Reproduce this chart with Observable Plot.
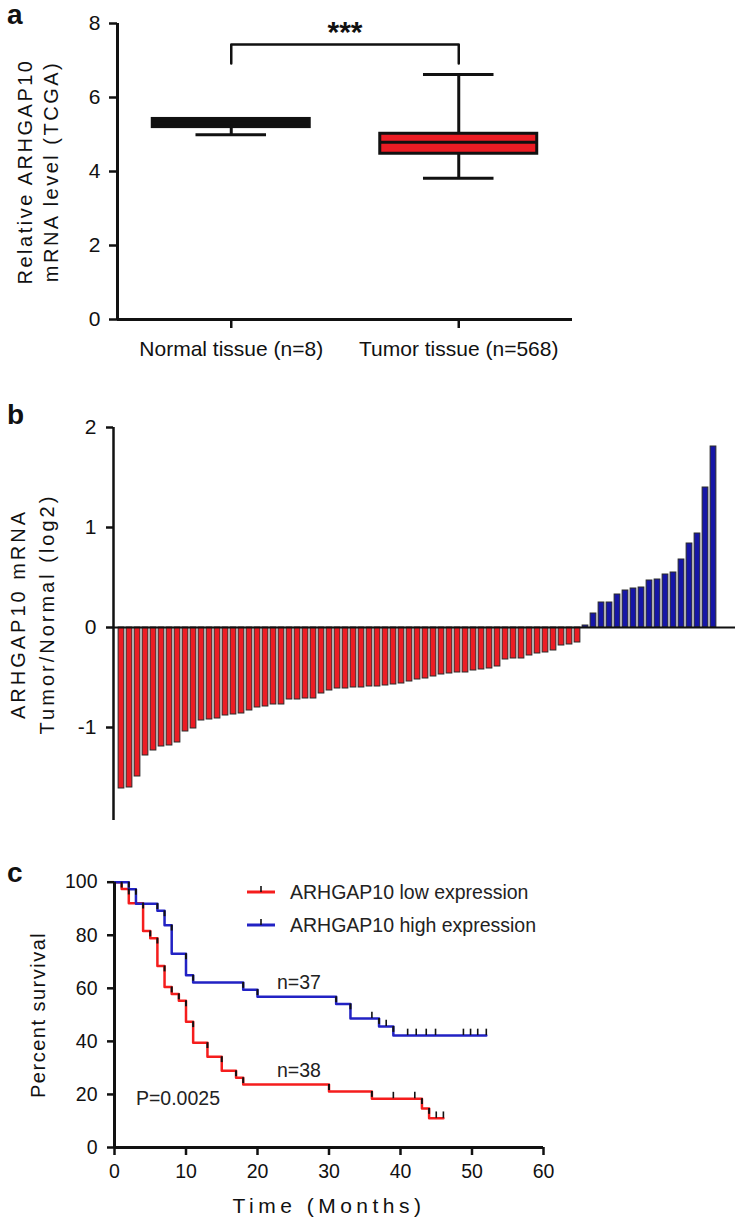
<!DOCTYPE html>
<html>
<head>
<meta charset="utf-8">
<script src="https://cdn.jsdelivr.net/npm/d3@7"></script>
<script src="https://cdn.jsdelivr.net/npm/@observablehq/plot@0.6"></script>
<style>
  html, body { margin: 0; padding: 0; background: #fff; }
  #root { position: relative; width: 737px; height: 1226px; overflow: hidden; font-family: "Liberation Sans", Arial, Helvetica, sans-serif; color: #111; }
  .letter { position: absolute; font-weight: bold; font-size: 28px; line-height: 28px; }
  .legend { position: absolute; left: 0; top: 0; }
</style>
</head>
<body>
<div id="root"></div>
<script>
// ---------------- DATA ----------------
// Panel a: box plot summaries
const groups = ["Normal tissue (n=8)", "Tumor tissue (n=568)"];
const boxLow = [4.99, 3.82];
const boxQ1 = [5.20, 4.48];
const boxMedian = [5.31, 4.79];
const boxQ3 = [5.42, 5.02];
const boxHigh = [5.42, 6.62];
const significance = "***";
const yTicksA = [0, 2, 4, 6, 8];
const yTitleA = "Relative ARHGAP10\nmRNA level (TCGA)";

// Panel b: waterfall of log2(Tumor/Normal), 75 samples, sorted
const foldChange = [
  -1.61, -1.60, -1.49, -1.28, -1.23, -1.19, -1.18, -1.15, -1.04, -1.01,
  -0.93, -0.92, -0.91, -0.88, -0.87, -0.86, -0.83, -0.80, -0.79, -0.77,
  -0.77, -0.72, -0.72, -0.71, -0.71, -0.66, -0.63, -0.61, -0.61, -0.60,
  -0.60, -0.59, -0.59, -0.58, -0.57, -0.56, -0.54, -0.52, -0.51, -0.49,
  -0.47, -0.46, -0.45, -0.45, -0.43, -0.42, -0.41, -0.39, -0.32, -0.31,
  -0.31, -0.28, -0.26, -0.25, -0.23, -0.18, -0.17, -0.15,
  0.02, 0.14, 0.25, 0.25, 0.33, 0.37, 0.39, 0.40, 0.47, 0.48,
  0.53, 0.55, 0.68, 0.84, 0.94, 1.40, 1.81
];
const yTicksB = [-1, 0, 1, 2];
const yTitleB = "ARHGAP10 mRNA\nTumor/Normal (log2)";

// Panel c: Kaplan-Meier curves
const lowTime = [0, 1, 2, 4, 5, 6, 7, 8, 9, 10, 11, 13, 15, 17, 18, 30, 36, 43, 44, 46];
const lowSurv = [100, 97.4, 92.1, 81.6, 78.9, 68.4, 60.5, 57.9, 55.3, 47.4, 39.5, 34.2, 28.9, 26.3, 23.7, 21.1, 18.4, 14.7, 11.0, 11.0];
const lowCensor = [39, 42, 45, 46];
const highTime = [0, 2, 3, 6, 7, 8, 10, 11, 18, 20, 31, 33, 37, 39, 52];
const highSurv = [100, 97.3, 91.9, 89.2, 83.8, 73.0, 64.9, 62.2, 59.5, 56.8, 54.1, 48.6, 45.6, 42.2, 42.2];
const highCensor = [36, 38, 41, 42.2, 43.6, 44.9, 48.8, 49.8, 50.8, 52];
const xTicksC = [0, 10, 20, 30, 40, 50, 60];
const yTicksC = [0, 20, 40, 60, 80, 100];
const legendLabels = ["ARHGAP10 low expression", "ARHGAP10 high expression"];
const nLabels = ["n=38", "n=37"];
const pValue = "P=0.0025";
const xTitleC = "Time (Months)";
const yTitleC = "Percent survival";
const panelLetters = ["a", "b", "c"];

// ---------------- STYLE ----------------
const FONT = '"Liberation Sans", Arial, Helvetica, sans-serif';
const RED = "#ec1c24";
const BLUE = "#1616a6";
const CURVE_RED = "#f51d1d";
const CURVE_BLUE = "#2222c4";
const INK = "#111";

function hasFont(name) {
  const c = document.createElement("canvas").getContext("2d");
  const s = "ARHGAP10 low expression 0123";
  c.font = "40px monospace"; const m = c.measureText(s).width;
  c.font = `40px "${name}", monospace`; const w = c.measureText(s).width;
  return Math.abs(w - m) > 1;
}
const NARROW = hasFont("Liberation Sans Narrow") ? '"Liberation Sans Narrow", "Arial Narrow", sans-serif' : FONT;
const NARROW_SIZE = NARROW === FONT ? 19.5 : 22;

const root = document.getElementById("root");
function place(svg, top) {
  svg.style.position = "absolute";
  svg.style.left = "0px";
  svg.style.top = top + "px";
  root.appendChild(svg);
}
function spaceText(svg, content, ls) {
  d3.select(svg).selectAll("text").filter(function () {
    return this.textContent.replace(/\s/g, "") === content.replace(/\s/g, "");
  }).attr("letter-spacing", ls);
}
const intFormat = d => String(d);

// ---------------- PANEL A ----------------
const boxes = groups.map((g, i) => ({ i, g, low: boxLow[i], q1: boxQ1[i], med: boxMedian[i], q3: boxQ3[i], high: boxHigh[i] }));
const boxFill = ["#111", RED];
const BOX_HALF = 0.345, CAP_HALF = 0.155;
const bracketY = Math.max(...boxHigh) + 0.81;
const bracket = [{ x: 0, y: bracketY - 0.51 }, { x: 0, y: bracketY }, { x: 1, y: bracketY }, { x: 1, y: bracketY - 0.51 }];

const plotA = Plot.plot({
  width: 737, height: 370,
  marginTop: 23, marginBottom: 51, marginLeft: 117, marginRight: 165,
  style: { fontSize: "21px", fontFamily: FONT, color: INK, background: "transparent", overflow: "visible" },
  x: { domain: [-0.5, groups.length - 0.5], axis: null },
  y: { domain: [0, 8], axis: null },
  marks: [
    Plot.ruleX(boxes, { x: "i", y1: "low", y2: "high", stroke: INK, strokeWidth: 3 }),
    Plot.ruleY(boxes, { y: "low", x1: d => d.i - CAP_HALF, x2: d => d.i + CAP_HALF, stroke: INK, strokeWidth: 3 }),
    Plot.ruleY(boxes, { y: "high", x1: d => d.i - CAP_HALF, x2: d => d.i + CAP_HALF, stroke: INK, strokeWidth: 3 }),
    Plot.rect(boxes, { x1: d => d.i - BOX_HALF, x2: d => d.i + BOX_HALF, y1: "q1", y2: "q3", fill: d => boxFill[d.i], stroke: INK, strokeWidth: 3 }),
    Plot.ruleY(boxes, { y: "med", x1: d => d.i - BOX_HALF, x2: d => d.i + BOX_HALF, stroke: INK, strokeWidth: 3 }),
    Plot.line(bracket, { x: "x", y: "y", stroke: INK, strokeWidth: 2.5 }),
    Plot.text([significance], { x: 0.5, y: bracketY + 0.32, text: d => d, fontSize: 30, fontWeight: "bold", fill: INK }),
    Plot.ruleX([-0.5], { y1: 0, y2: 8, stroke: INK, strokeWidth: 3 }),
    Plot.ruleY([0], { stroke: INK, strokeWidth: 3 }),
    Plot.axisY({ ticks: yTicksA, tickFormat: intFormat, tickSize: 8, tickPadding: 9, strokeWidth: 2.5, label: null }),
    Plot.axisX({ ticks: boxes.map(d => d.i), tickFormat: i => groups[i], tickSize: 9, tickPadding: 13, strokeWidth: 2.5, label: null }),
    Plot.text([yTitleA], { frameAnchor: "left", textAnchor: "middle", lineAnchor: "middle", dx: -81, rotate: -90, text: d => d, lineHeight: 1.3, fontSize: 20, fill: INK })
  ]
});
spaceText(plotA, yTitleA, "2.5px");
place(plotA, 0);

// ---------------- PANEL B ----------------
const bars = foldChange.map((v, i) => ({ i, v }));
const BAR_HALF = 0.36;
const yMinB = -1.93;
const plotB = Plot.plot({
  width: 737, height: 450,
  marginTop: 47, marginBottom: 10, marginLeft: 113, marginRight: 2,
  style: { fontSize: "21px", fontFamily: FONT, color: INK, background: "transparent", overflow: "visible" },
  x: { domain: [-1, foldChange.length + 1.75], axis: null },
  y: { domain: [yMinB, 2], axis: null },
  marks: [
    Plot.rect(bars, { x1: d => d.i - BAR_HALF, x2: d => d.i + BAR_HALF, y1: 0, y2: "v", fill: d => d.v < 0 ? RED : BLUE, stroke: "#2a2a2a", strokeWidth: 1 }),
    Plot.ruleY([0], { stroke: INK, strokeWidth: 2 }),
    Plot.ruleX([-1], { y1: yMinB, y2: 2, stroke: INK, strokeWidth: 2.5 }),
    Plot.axisY({ ticks: yTicksB, tickFormat: intFormat, tickSize: 7, tickPadding: 10, strokeWidth: 2.5, label: null }),
    Plot.text([yTitleB], { frameAnchor: "left", textAnchor: "middle", lineAnchor: "middle", dx: -83, dy: -10, rotate: -90, text: d => d, lineHeight: 1.45, fontSize: 20, fill: INK })
  ]
});
spaceText(plotB, yTitleB, "3px");
place(plotB, 380);

// ---------------- PANEL C ----------------
function curve(times, surv) { return times.map((t, k) => ({ t, s: surv[k] })); }
function levelAt(times, surv, x) { let s = surv[0]; for (let k = 0; k < times.length; k++) if (times[k] <= x) s = surv[k]; return s; }
function drops(times, surv) {
  const out = [];
  for (let k = 1; k < times.length; k++) if (surv[k] < surv[k - 1]) out.push({ t: times[k], top: surv[k - 1], bot: surv[k - 1] - Math.min(2.2, surv[k - 1] - surv[k]) });
  return out;
}
const lowCurve = curve(lowTime, lowSurv);
const highCurve = curve(highTime, highSurv);
const censorMarks = [
  ...lowCensor.map(t => ({ t, s: levelAt(lowTime, lowSurv, t) })),
  ...highCensor.map(t => ({ t, s: levelAt(highTime, highSurv, t) }))
];
const dropMarks = [...drops(lowTime, lowSurv), ...drops(highTime, highSurv)];

const plotC = Plot.plot({
  width: 737, height: 376,
  marginTop: 31.7, marginBottom: 79, marginLeft: 114, marginRight: 194,
  style: { fontSize: NARROW_SIZE + "px", fontFamily: NARROW, color: INK, background: "transparent", overflow: "visible" },
  x: { domain: [0, 60], axis: null },
  y: { domain: [0, 100], axis: null },
  marks: [
    Plot.line(lowCurve, { x: "t", y: "s", curve: "step-after", stroke: CURVE_RED, strokeWidth: 2.5 }),
    Plot.line(highCurve, { x: "t", y: "s", curve: "step-after", stroke: CURVE_BLUE, strokeWidth: 2.5 }),
    Plot.ruleX(dropMarks, { x: "t", y1: "top", y2: "bot", stroke: INK, strokeWidth: 2 }),
    Plot.ruleX(censorMarks, { x: "t", y1: "s", y2: d => d.s + 2.4, stroke: INK, strokeWidth: 1.6 }),
    Plot.ruleX([0], { y1: 0, y2: 100, stroke: INK, strokeWidth: 3 }),
    Plot.ruleY([0], { stroke: INK, strokeWidth: 3 }),
    Plot.axisY({ ticks: yTicksC, tickFormat: intFormat, tickSize: 7, tickPadding: 10, strokeWidth: 2.5, label: null }),
    Plot.axisX({ ticks: xTicksC, tickFormat: intFormat, tickSize: 8, tickPadding: 9, strokeWidth: 2.5, label: null }),
    Plot.text([nLabels[1]], { x: 25.8, y: 62, text: d => d, fill: "#222" }),
    Plot.text([nLabels[0]], { x: 25.8, y: 29, text: d => d, fill: "#222" }),
    Plot.text([pValue], { x: 3, y: 18.5, text: d => d, textAnchor: "start", fill: "#222" }),
    Plot.text([yTitleC], { frameAnchor: "left", textAnchor: "middle", lineAnchor: "middle", dx: -76, rotate: -90, text: d => d, fontSize: 20, fontFamily: FONT, fill: INK }),
    Plot.text([xTitleC], { frameAnchor: "bottom", textAnchor: "middle", dy: 65, text: d => d, fontSize: 21, fontFamily: FONT, fill: INK })
  ]
});
spaceText(plotC, yTitleC, "1.5px");
spaceText(plotC, xTitleC, "4.5px");
place(plotC, 850);

// Legend for panel c (SVG overlay)
const legendColors = [CURVE_RED, CURVE_BLUE];
const legendRows = [892, 925];
const leg = d3.select(root).append("svg").attr("class", "legend").attr("width", 737).attr("height", 1226);
legendLabels.forEach((lab, k) => {
  const y = legendRows[k];
  leg.append("line").attr("x1", 247).attr("x2", 275).attr("y1", y).attr("y2", y).attr("stroke", legendColors[k]).attr("stroke-width", 3);
  leg.append("line").attr("x1", 261).attr("x2", 261).attr("y1", y).attr("y2", y - 6).attr("stroke", INK).attr("stroke-width", 1.6);
  leg.append("text").attr("x", 290).attr("y", y).attr("dy", "0.36em").attr("font-family", NARROW).attr("font-size", NARROW_SIZE).attr("fill", "#222").text(lab);
});

// Panel letters
const letterTops = [1, 401, 859];
panelLetters.forEach((l, k) => {
  const div = document.createElement("div");
  div.className = "letter";
  div.style.left = "7px";
  div.style.top = letterTops[k] + "px";
  div.textContent = l;
  root.appendChild(div);
});
</script>
</body>
</html>
